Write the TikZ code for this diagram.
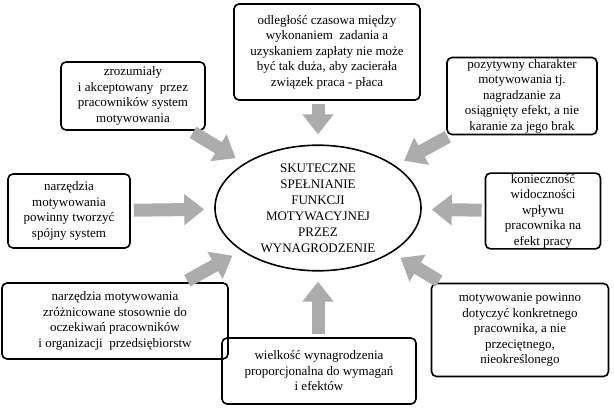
\documentclass[tikz,border=0pt]{standalone}
\usepackage{fontspec}
\setmainfont{Liberation Serif}
\usetikzlibrary{arrows.meta,shapes.geometric}

\begin{document}
\begin{tikzpicture}[x=1pt,y=-1pt,
	box/.style={draw,line width=1.6pt,rounded corners=5pt,align=center,inner sep=1pt,
		font=\fontsize{13}{15.5}\selectfont},
	feed/.style={draw=gray!65,line width=13pt,shorten <=3pt,shorten >=10pt,
		-{Triangle[length=20pt,width=30pt]}}]
	\useasboundingbox (0,0) rectangle (614,415);
	
	% central goal
	\node[draw,line width=1.6pt,ellipse,inner sep=0pt,minimum width=206pt,minimum height=118pt,align=center,
		font=\fontsize{13}{16}\selectfont] (goal) at (318,208)
		{SKUTECZNE\\SPEŁNIANIE\\FUNKCJI\\MOTYWACYJNEJ\\PRZEZ\\WYNAGRODZENIE};
	
	% conditions
	\node[box,minimum width=186pt,minimum height=96pt] (top) at (327,52)
		{odległość czasowa między\\wykonaniem\ \ zadania a\\uzyskaniem zapłaty nie może\\być tak duża, aby zacierała\\związek praca - płaca};
	\node[box,minimum width=144pt,minimum height=68pt] (topl) at (133,96)
		{zrozumiały\\i akceptowany\ \ przez\\pracowników system\\motywowania};
	\node[box,minimum width=150pt,minimum height=77pt] (topr) at (522,96)
		{pozytywny charakter\\motywowania tj.\\nagradzanie za\\osiągnięty efekt, a nie\\karanie za jego brak};
	\node[box,minimum width=122pt,minimum height=74pt] (left) at (69,211)
		{narzędzia\\motywowania\\powinny tworzyć\\spójny system};
	\node[box,minimum width=115pt,minimum height=74pt] (right) at (543,211)
		{konieczność\\widoczności\\wpływu\\pracownika na\\efekt pracy};
	\node[box,minimum width=226pt,minimum height=76pt] (botl) at (115,321)
		{narzędzia motywowania\\zróżnicowane stosownie do\\oczekiwań pracowników\\i organizacji\ \ przedsiębiorstw};
	\node[box,minimum width=194pt,minimum height=66pt] (bot) at (319,371)
		{wielkość wynagrodzenia\\proporcjonalna do wymagań\\i efektów};
	\node[box,minimum width=177pt,minimum height=93pt] (botr) at (520,330)
		{motywowanie powinno\\dotyczyć konkretnego\\pracownika, a nie\\przeciętnego,\\nieokreślonego};
	
	% arrows into the goal
	\draw[feed] (top.south -| goal.north) -- (goal.north);
	\draw[feed] (topl) -- (goal);
	\draw[feed] (topr) -- (goal);
	\draw[feed] (left) -- (goal);
	\draw[feed] (right) -- (goal);
	\draw[feed] (botl) -- (goal);
	\draw[feed] (bot.north -| goal.south) -- (goal.south);
	\draw[feed] (botr) -- (goal);
\end{tikzpicture}
\end{document}
